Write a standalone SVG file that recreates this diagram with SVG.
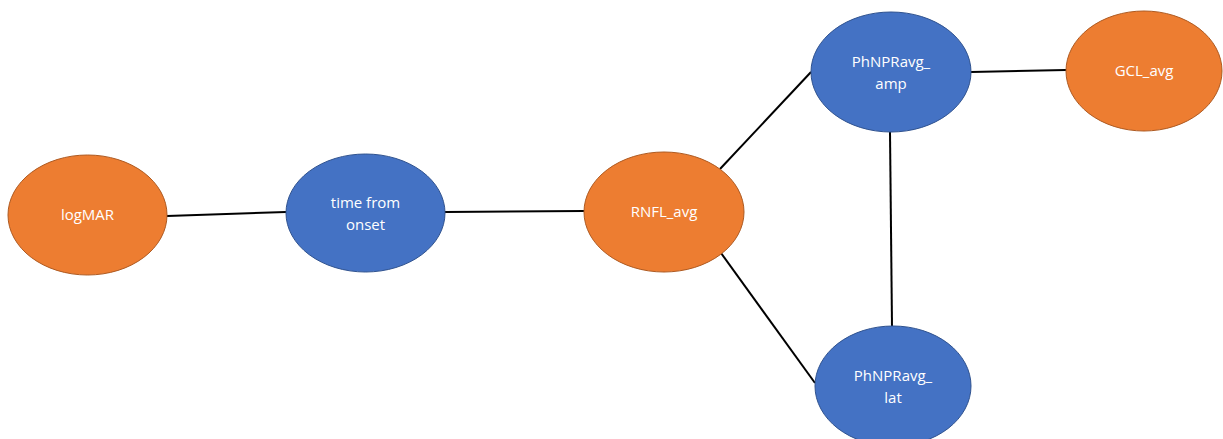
<svg xmlns="http://www.w3.org/2000/svg" width="1223" height="439" viewBox="0 0 1223 439">
<style>
.o{fill:#ED7D31;stroke:#AE5A21;stroke-width:1}
.b{fill:#4472C4;stroke:#2F528F;stroke-width:1}
.t{fill:#fff;font-family:"Open Sans","Liberation Sans",sans-serif;font-size:15px;text-anchor:middle}
.e{stroke:#000;stroke-width:2;fill:none}
</style>
<rect width="1223" height="439" fill="#fff"/>
<g id="edges">
<line class="e" x1="167" y1="216" x2="286" y2="212"/>
<line class="e" x1="445" y1="212" x2="584" y2="211"/>
<line class="e" x1="720" y1="169" x2="811" y2="72"/>
<line class="e" x1="721" y1="253" x2="815" y2="383"/>
<line class="e" x1="971" y1="72" x2="1066" y2="70"/>
<line class="e" x1="890" y1="132" x2="892" y2="326"/>
</g>
<g id="logMAR"><ellipse class="o" cx="87.5" cy="215" rx="79.5" ry="60"/><text class="t" x="87.5" y="220">logMAR</text></g>
<g id="time"><ellipse class="b" cx="365.5" cy="213" rx="79.5" ry="59"/><text class="t" x="365.5" y="208">time from</text><text class="t" x="365.5" y="230">onset</text></g>
<g id="rnfl"><ellipse class="o" cx="664" cy="212" rx="80" ry="60"/><text class="t" x="664" y="217">RNFL_avg</text></g>
<g id="amp"><ellipse class="b" cx="891" cy="72" rx="80" ry="60"/><text class="t" x="891" y="67">PhNPRavg_</text><text class="t" x="891" y="89">amp</text></g>
<g id="gcl"><ellipse class="o" cx="1144" cy="71" rx="78" ry="60"/><text class="t" x="1144" y="76">GCL_avg</text></g>
<g id="lat"><ellipse class="b" cx="893" cy="386" rx="78" ry="60"/><text class="t" x="893" y="381">PhNPRavg_</text><text class="t" x="893" y="403">lat</text></g>
</svg>
